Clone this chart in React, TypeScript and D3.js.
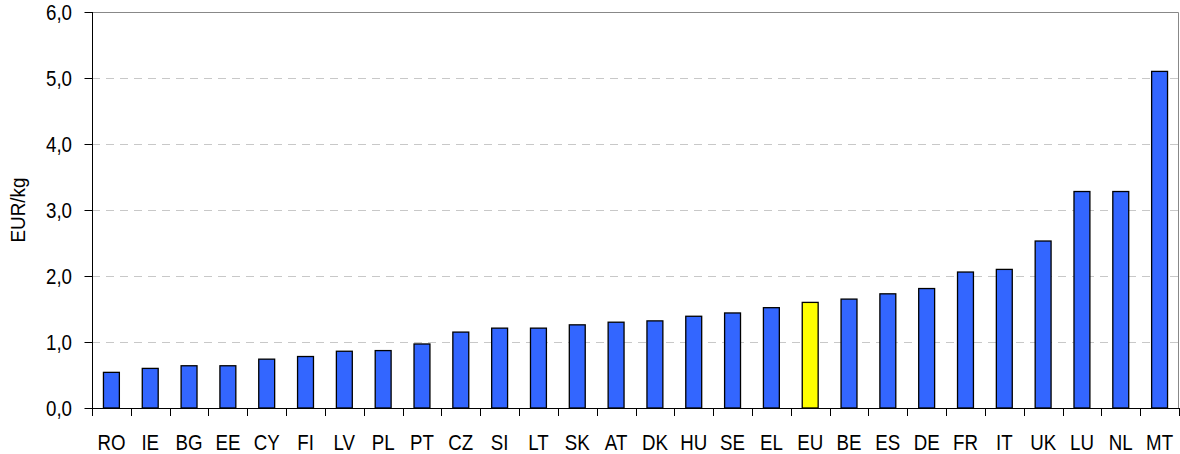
import React, { useEffect, useRef } from "react";
import * as d3 from "d3";

const categories = ["RO","IE","BG","EE","CY","FI","LV","PL","PT","CZ","SI","LT","SK","AT","DK","HU","SE","EL","EU","BE","ES","DE","FR","IT","UK","LU","NL","MT"];
const values = [0.54,0.60,0.64,0.64,0.74,0.78,0.86,0.87,0.97,1.15,1.21,1.21,1.26,1.30,1.32,1.39,1.44,1.52,1.60,1.65,1.73,1.81,2.06,2.10,2.53,3.28,3.28,5.10];
const highlight = ["EU"];
const yTicks = [0,1,2,3,4,5,6];
const yTitle = "EUR/kg";

const W = 1180, H = 454;
const M = { left: 92, right: 1, top: 12, bottom: 46 };

export default function App() {
  const ref = useRef<SVGSVGElement>(null);
  useEffect(() => {
    const svg = d3.select(ref.current);
    svg.selectAll("*").remove();
    const x = d3.scaleBand().domain(categories).range([M.left, W - M.right]).paddingInner(0.59).paddingOuter(0.295);
    const y = d3.scaleLinear().domain([0, 6]).range([H - M.bottom, M.top]);
    const font = "'Liberation Sans', Arial, sans-serif";
    const x0 = M.left, x1 = W - M.right;
    const fs = 22, sx = 0.85;

    // gridlines
    svg.append("g").selectAll("line").data(yTicks.filter(t => t > 0 && t < 6)).join("line")
      .attr("x1", x0).attr("x2", x1)
      .attr("y1", d => Math.round(y(d)) + 0.5).attr("y2", d => Math.round(y(d)) + 0.5)
      .attr("stroke", "#c8c8c8").attr("stroke-width", 1).attr("stroke-dasharray", "8,6");
    // frame top/right
    svg.append("line").attr("x1", x0).attr("x2", x1 - 0.5).attr("y1", Math.round(y(6)) + 0.5).attr("y2", Math.round(y(6)) + 0.5).attr("stroke", "#888");
    svg.append("line").attr("x1", x1 - 0.5).attr("x2", x1 - 0.5).attr("y1", Math.round(y(6)) + 0.5).attr("y2", y(0)).attr("stroke", "#888");

    // bars
    svg.append("g").selectAll("rect").data(categories).join("rect")
      .attr("x", d => x(d)!)
      .attr("width", x.bandwidth())
      .attr("y", (d, i) => y(values[i]))
      .attr("height", (d, i) => y(0) - y(values[i]))
      .attr("fill", d => highlight.includes(d) ? "#FFFF00" : "#3366FF")
      .attr("stroke", "#000").attr("stroke-width", 1.3);

    // y axis
    const gy = svg.append("g").attr("transform", `translate(${x0 + 0.5},0)`)
      .call(d3.axisLeft(y).tickValues(yTicks).tickSize(8).tickFormat(() => ""));
    gy.select(".domain").attr("stroke", "#000").attr("d", `M0,${y(6)}V${y(0)}`);
    svg.append("g").selectAll("text").data(yTicks).join("text")
      .attr("transform", d => `translate(${x0 - 20},${y(d) + 8}) scale(${sx},1)`)
      .attr("text-anchor", "end").attr("font-family", font).attr("font-size", fs).attr("fill", "#000")
      .text(d => d3.format(".1f")(d).replace(".", ","));

    // x axis
    const bounds = d3.range(categories.length + 1).map(i => x0 + i * (x1 - x0) / categories.length);
    const gx = svg.append("g");
    gx.append("line").attr("x1", x0).attr("x2", x1).attr("y1", Math.round(y(0)) + 0.5).attr("y2", Math.round(y(0)) + 0.5).attr("stroke", "#000");
    gx.selectAll("line.t").data(bounds).join("line").attr("class", "t")
      .attr("x1", d => Math.round(d) + 0.5).attr("x2", d => Math.round(d) + 0.5)
      .attr("y1", y(0)).attr("y2", y(0) + 8).attr("stroke", "#000");
    gx.selectAll("text").data(categories).join("text")
      .attr("transform", d => `translate(${x(d)! + x.bandwidth() / 2},${H - 4}) scale(${sx},1)`)
      .attr("text-anchor", "middle").attr("font-family", font).attr("font-size", fs).text(d => d);

    // y title
    svg.append("text").attr("transform", `translate(25,${(y(0) + y(6)) / 2}) rotate(-90) scale(0.9,1)`)
      .attr("text-anchor", "middle").attr("font-family", font).attr("font-size", 21).text(yTitle);
  }, []);
  return <svg ref={ref} width={W} height={H} style={{ position: "absolute", left: 0, top: 0, background: "#fff" }} />;
}
